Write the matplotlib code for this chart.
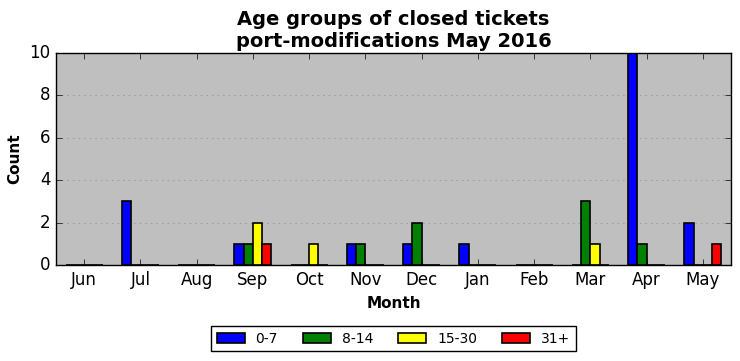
import matplotlib
matplotlib.use('Agg')
import matplotlib.pyplot as plt
import numpy as np

months = ['Jun', 'Jul', 'Aug', 'Sep', 'Oct', 'Nov', 'Dec', 'Jan', 'Feb', 'Mar', 'Apr', 'May']
age_0_7 = [0, 3, 0, 1, 0, 1, 1, 1, 0, 0, 10, 2]
age_8_14 = [0, 0, 0, 1, 0, 1, 2, 0, 0, 3, 1, 0]
age_15_30 = [0, 0, 0, 2, 1, 0, 0, 0, 0, 1, 0, 0]
age_31 = [0, 0, 0, 1, 0, 0, 0, 0, 0, 0, 0, 1]

series = [('0-7', age_0_7, 'blue'), ('8-14', age_8_14, 'green'),
          ('15-30', age_15_30, 'yellow'), ('31+', age_31, 'red')]

plt.style.use('classic')
fig = plt.figure(figsize=(7.4, 3.61), dpi=100)
ax = fig.add_axes([56 / 740, 1 - 265 / 361, (731 - 56) / 740, (265 - 53) / 361])
ax.set_facecolor('#bfbfbf')

x = np.arange(len(months))
w = 0.165
for i, (label, vals, color) in enumerate(series):
    ax.bar(x + (i - 2) * w, vals, w, color=color, edgecolor='black',
           linewidth=1.2, label=label, align='edge')

ax.set_xlim(-0.5, 11.5)
ax.set_ylim(0, 10)
ax.set_xticks(x)
ax.set_xticklabels(months)
ax.yaxis.grid(True, linestyle=':', color='#888888')
ax.set_axisbelow(True)
ax.tick_params(labelsize=12)
ax.set_xlabel('Month', fontsize=11, fontweight='bold')
ax.set_ylabel('Count', fontsize=11, fontweight='bold')
ax.set_title('Age groups of closed tickets\nport-modifications May 2016',
             fontsize=14, fontweight='bold', y=0.995)
ax.legend(loc='upper center', ncol=4, bbox_to_anchor=(0.5, -0.256),
          fontsize=10, frameon=True, fancybox=False, columnspacing=1.8)

fig.savefig('out.png', dpi=100)
